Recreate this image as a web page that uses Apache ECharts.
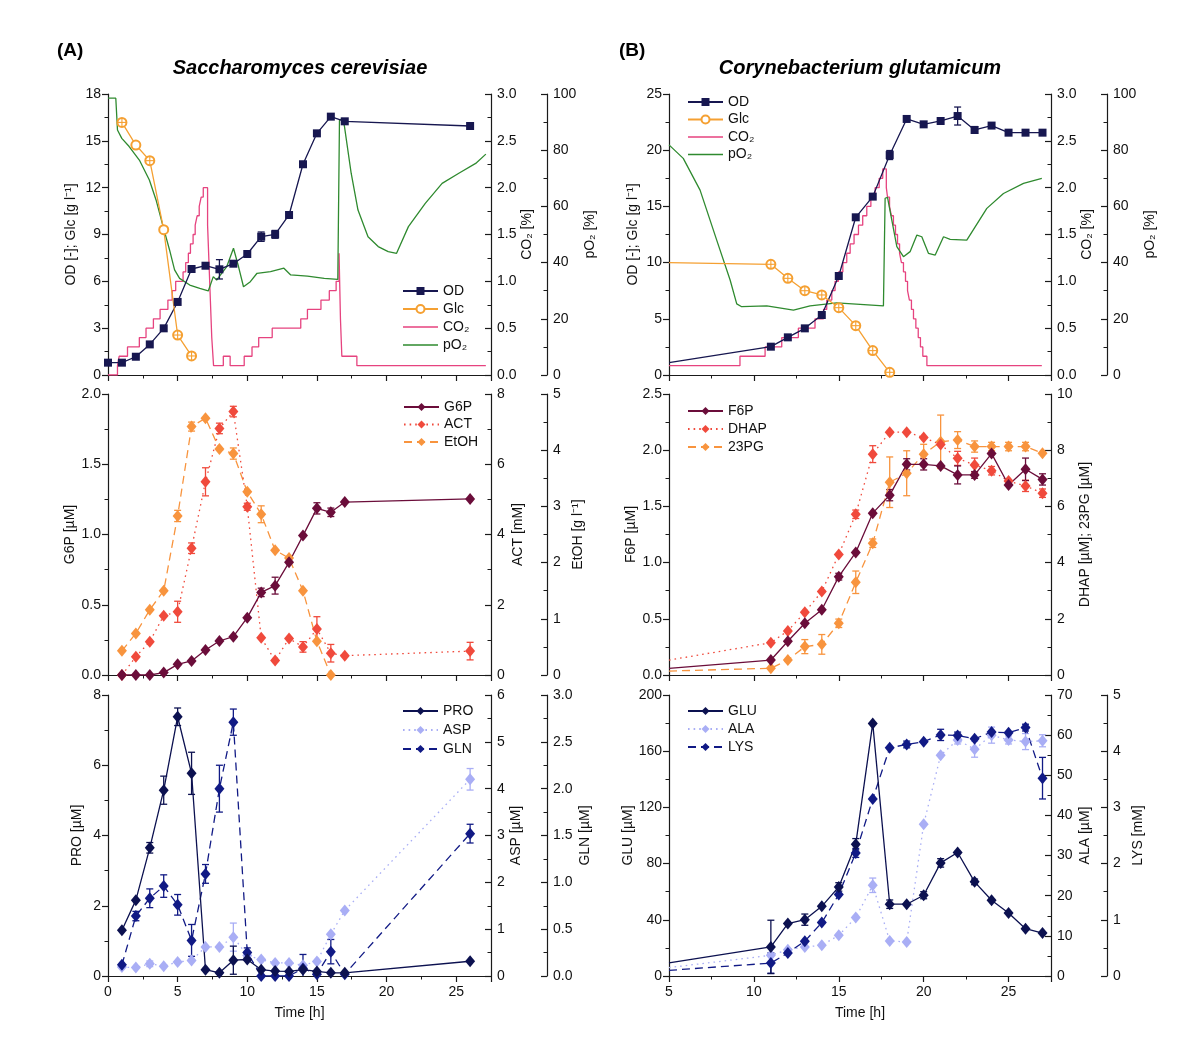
<!DOCTYPE html>
<html><head><meta charset="utf-8">
<script src="https://cdn.jsdelivr.net/npm/echarts/dist/echarts.min.js"></script>
<style>html,body{margin:0;padding:0;background:#fff}#c{width:1200px;height:1054px}</style>
</head><body><div id="c"></div>
<script>
// ---------------- DATA: panel A (Saccharomyces cerevisiae) ----------------
const tOdA = [0,1,2,3,4,5,6,7,8,9,10,11,12,13,14,15,16,17,26];
const odA = [0.79,0.79,1.17,1.96,2.99,4.68,6.79,7.0,6.77,7.13,7.75,8.86,9.01,10.25,13.5,15.48,16.55,16.25,15.95];
const odAErr = [0,0,0,0,0,0,0,0,0.62,0,0,0.3,0.25,0,0,0,0,0,0];
const tGlcA = [1,2,3,4,5,6];
const glcA = [16.18,14.73,13.73,9.31,2.56,1.22];
const glcACross = [1,0,1,0,1,1];
const co2A = [[0,0],[0.68,0.1],[0.8,0.2],[1.4,0.3],[2.25,0.4],[2.73,0.5],[3.26,0.6],[3.74,0.7],[4.3,0.8],[4.61,0.9],[4.86,1.0],[5.39,1.1],[5.58,1.2],[5.77,1.3],[5.92,1.4],[6.11,1.5],[6.26,1.6],[6.4,1.7],[6.55,1.8],[6.69,1.9],[6.84,2.0],[7.15,1.6],[7.25,1.2],[7.35,0.8],[7.45,0.4],[7.58,0.1],[8.28,0.2],[8.77,0.1],[9.78,0.2],[10.34,0.3],[10.82,0.4],[11.79,0.5],[13.84,0.6],[14.32,0.7],[15.29,0.8],[15.89,0.9],[16.38,1.0],[16.59,1.3],[16.69,0.6],[16.79,0.2],[17.87,0.1],[27.13,0.1]];
const po2A = [[0,98.5],[0.56,98.5],[0.68,87.2],[0.99,84.2],[1.52,81.3],[2.25,76.5],[2.97,69.4],[3.45,62.3],[3.96,52.8],[4.42,44.5],[4.78,37.4],[5.14,34.4],[5.87,32.0],[6.59,30.8],[7.2,29.9],[7.56,35.0],[7.8,33.8],[8.16,36.2],[8.53,38.6],[9.01,45.1],[9.37,38.6],[9.73,31.4],[10.22,33.2],[10.7,36.2],[11.67,36.8],[12.63,38.0],[13.12,35.6],[14.32,35.2],[15.53,34.4],[16.5,34.0],[16.62,90.7],[16.86,91.3],[16.98,88.4],[17.46,71.8],[17.95,58.7],[18.67,49.2],[19.4,45.7],[20.12,43.9],[20.72,43.3],[21.57,52.8],[22.78,61.1],[23.99,68.2],[25.19,71.8],[26.4,75.3],[27.13,78.6]];

const tMetA = [1,2,3,4,5,6,7,8,9,10,11,12,13,14,15,16,17,26];
const g6pA = [0,0,0,0.017,0.076,0.10,0.178,0.242,0.273,0.408,0.588,0.636,0.802,0.992,1.186,1.158,1.231,1.253];
const g6pAErr = [0,0,0,0,0,0,0,0,0,0,0.03,0.06,0,0,0.04,0.03,0,0];
const actA = [0,0.52,0.95,1.69,1.80,3.61,5.50,7.02,7.50,4.79,1.06,0.41,1.04,0.80,1.31,0.62,0.55,0.68];
const actAErr = [0,0,0,0,0.3,0.15,0.4,0.15,0.15,0.1,0,0,0,0.15,0.35,0.25,0,0.25];
const tEtohA = [1,2,3,4,5,6,7,8,9,10,11,12,13,14,15,16];
const etohA = [0.43,0.74,1.16,1.50,2.83,4.42,4.57,4.02,3.94,3.26,2.86,2.22,2.08,1.50,0.60,0];
const etohAErr = [0,0,0,0,0.1,0.08,0,0,0.1,0,0.15,0,0,0,0,0];

const proA = [1.30,2.16,3.65,5.29,7.38,5.77,0.18,0.09,0.45,0.47,0.18,0.14,0.13,0.18,0.13,0.09,0.09,0.42];
const proAErr = [0,0,0.15,0.4,0.25,0.6,0,0,0.4,0,0,0,0,0,0,0,0,0];
const aspA = [0.19,0.18,0.26,0.21,0.30,0.33,0.62,0.62,0.83,0.44,0.35,0.28,0.28,0.23,0.31,0.89,1.40,4.20];
const aspAErr = [0,0,0.06,0,0,0,0,0,0.3,0,0,0,0,0,0,0,0,0.23];
const glnA = [0.12,0.64,0.83,0.96,0.76,0.38,1.09,2.0,2.71,0.25,0.0,0,0,0.08,0.02,0.26,0.02,1.52];
const glnAErr = [0,0.05,0.1,0.12,0.11,0.17,0.1,0.25,0.14,0.05,0,0,0,0.15,0,0.13,0,0.1];

// ---------------- DATA: panel B (Corynebacterium glutamicum) ----------------
const tB = [5,11,12,13,14,15,16,17,18,19,20,21,22,23,24,25,26,27];
const odB = [1.10,2.52,3.35,4.15,5.34,8.81,14.03,15.87,19.57,22.78,22.30,22.6,23.04,21.8,22.19,21.56,21.56,21.56];
const odBErr = [0,0,0,0,0,0,0,0,0.4,0,0,0,0.8,0.3,0,0,0,0];
const tGlcB = [5,11,12,13,14,15,16,17,18];
const glcB = [9.99,9.85,8.60,7.50,7.12,5.99,4.39,2.17,0.24];
const glcBCross = [0,1,1,1,1,1,1,1,1];
const co2B = [[5,0.1],[9.18,0.2],[10.66,0.3],[11.64,0.4],[12.62,0.5],[13.6,0.6],[14.1,0.7],[14.29,0.8],[14.59,0.9],[14.78,1.0],[14.98,1.1],[15.24,1.2],[15.47,1.3],[15.67,1.4],[15.9,1.5],[16.16,1.6],[16.41,1.7],[16.65,1.8],[16.89,1.9],[17.14,2.0],[17.38,2.1],[17.59,2.2],[17.8,2.0],[17.87,1.9],[17.99,1.8],[18.1,1.7],[18.22,1.6],[18.34,1.5],[18.46,1.4],[18.58,1.3],[18.69,1.2],[18.81,1.1],[18.93,1.0],[19.05,0.9],[19.16,0.8],[19.28,0.7],[19.4,0.6],[19.54,0.5],[19.68,0.4],[19.81,0.3],[19.95,0.2],[20.19,0.1],[26.96,0.1]];
const po2B = [[5,81.9],[5.84,77.1],[6.83,65.8],[7.81,48.0],[8.6,33.8],[8.99,25.3],[9.28,24.3],[10.76,24.6],[12.33,23.1],[13.31,24.6],[14.88,25.7],[17.63,24.6],[17.73,62.9],[17.87,63.2],[18.42,45.7],[18.81,42.1],[19.2,43.9],[19.6,49.8],[19.89,49.2],[20.28,43.3],[20.68,42.7],[21.17,49.2],[21.56,48.3],[22.54,48.0],[23.72,59.3],[24.7,64.6],[25.88,68.2],[26.96,70.0]];

const f6pB = [0.059,0.133,0.30,0.46,0.58,0.875,1.09,1.44,1.60,1.874,1.874,1.86,1.78,1.78,1.97,1.69,1.83,1.74];
const f6pBErr = [0,0,0,0,0,0.03,0,0,0.05,0.05,0.05,0,0.08,0.03,0,0,0.1,0.05];
const dhapB = [0.53,1.15,1.57,2.23,2.97,4.29,5.72,7.86,8.64,8.64,8.45,8.2,7.71,7.47,7.27,6.9,6.73,6.47];
const dhapBErr = [0,0,0,0,0,0,0.15,0.3,0,0,0,0,0.25,0.25,0.15,0,0.2,0.15];
const pg23B = [0.14,0.24,0.53,1.01,1.09,1.84,3.30,4.69,6.86,7.18,7.86,8.30,8.36,8.13,8.13,8.13,8.13,7.89];
const pg23BErr = [0,0,0,0.25,0.35,0.15,0.4,0.15,0.9,0.8,0.35,0.95,0.3,0.2,0.15,0.15,0.15,0];

const gluB = [9.3,20.7,37.3,40.1,49.6,63.4,93.8,179.8,51.1,51.1,57.5,80.5,87.9,67,53.9,44.9,33.7,30.6];
const gluBErr = [0,19,0,4,0,3,4,0,3,0,2.5,3,0,2,0,0,0,0];
const alaB = [2.1,5.15,6.57,7.23,7.65,10.14,14.55,22.6,8.73,8.48,37.8,55.0,58.8,56.5,60.0,58.8,58.4,58.6];
const alaBErr = [0,0,0,0,0,0,0,1.8,0,0,0,0,1,2,2,1,2,1.5];
const lysB = [0.10,0.23,0.41,0.62,0.95,1.45,2.19,3.15,4.06,4.12,4.17,4.29,4.28,4.22,4.34,4.33,4.42,3.52];
const lysBErr = [0,0.18,0,0,0,0,0.08,0,0,0.06,0,0.1,0.06,0,0,0,0.06,0.37];

// ---------------- STYLE ----------------
const FONT = "'Liberation Sans', Arial, Helvetica, sans-serif";
const AX = '#1a1a1a';
const C = {
  od:'#171750', glc:'#f5a032', co2:'#e6437f', po2:'#2f8a2f',
  g6p:'#6b0d3a', act:'#f04a3c', etoh:'#f8943e',
  pro:'#0c1150', gln:'#111a85', asp:'#a9aef5'
};
const DOT = [1.6, 4];
const DASH = [8, 5];
const LINE_ICON = 'path://M0,0L0.01,0L0.01,0.01L0,0.01Z M0,4.2L35,4.2L35,5.8L0,5.8Z M34.99,9.99L35,9.99L35,10L34.99,10Z';

const grids = [], xAxes = [], yAxes = [], series = [], legends = [];

function addGrid(left, top, width, height){ grids.push({left, top, width, height}); return grids.length-1; }
function addX(g, min, showLabel){
  xAxes.push({type:'value', gridIndex:g, min:min, max:27.5, interval:5, position:'bottom',
    name: showLabel ? 'Time [h]' : '', nameLocation:'middle', nameGap:30,
    nameTextStyle:{fontFamily:FONT, fontSize:14, color:'#111'},
    axisLine:{show:true, onZero:false, lineStyle:{color:AX, width:1.2}},
    axisTick:{show:true, inside:false, length:6, lineStyle:{color:AX, width:1.2}},
    minorTick:{show:true, splitNumber:2, length:3.5, lineStyle:{color:AX, width:1}},
    axisLabel:{show:showLabel, showMaxLabel:false, margin:9, fontFamily:FONT, fontSize:14, color:'#111'},
    splitLine:{show:false}, minorSplitLine:{show:false}});
  return xAxes.length-1;
}
function addY(o){
  const right = o.pos === 'right';
  yAxes.push({type:'value', gridIndex:o.g, position:o.pos, offset:o.off||0, min:o.min, max:o.max, interval:o.iv,
    name:o.name, nameLocation:'middle', nameRotate:90, nameGap:o.gap,
    nameTextStyle:{fontFamily:FONT, fontSize:14, color:'#111'},
    axisLine:{show:true, onZero:false, lineStyle:{color:AX, width:1.2}},
    axisTick:{show:true, inside:right, length:6, lineStyle:{color:AX, width:1.2}},
    minorTick:{show:true, splitNumber:2, length:3.5, lineStyle:{color:AX, width:1}},
    axisLabel:{show:true, margin: right ? 6 : 7, fontFamily:FONT, fontSize:14, color:'#111',
      formatter: o.dec ? (v => v.toFixed(o.dec)) : (v => String(v))},
    splitLine:{show:false}, minorSplitLine:{show:false}});
  return yAxes.length-1;
}
function pts(ts, vs, hideFirst){
  return ts.map((t,i) => (hideFirst && i===0) ? {value:[t, vs[i]], symbol:'none'} : [t, vs[i]]);
}
function lineS(name, data, xi, yi, color, o){
  o = o || {};
  series.push({type:'line', name, data, xAxisIndex:xi, yAxisIndex:yi,
    symbol:o.symbol || 'none', symbolSize:o.size || 8, showSymbol: !!o.symbol,
    step:o.step || false, clip:true,
    lineStyle:{color, width:o.width || 1.3, type:o.type || 'solid'},
    itemStyle:{color, borderWidth: o.bw || 0, borderColor:color},
    emphasis:{disabled:true}, z:o.z || 3});
}
function errS(ts, vs, es, xi, yi, color){
  const data = [];
  ts.forEach((t,i) => { if (es[i] > 0) data.push([t, vs[i]-es[i], vs[i]+es[i]]); });
  series.push({type:'custom', name:'err', xAxisIndex:xi, yAxisIndex:yi, data, z:3, clip:true,
    encode:{x:0, y:[1,2]},
    renderItem:(p, api) => {
      const a = api.coord([api.value(0), api.value(1)]);
      const b = api.coord([api.value(0), api.value(2)]);
      const w = 3.5, st = {stroke:color, lineWidth:1.3};
      return {type:'group', children:[
        {type:'line', shape:{x1:a[0], y1:a[1], x2:b[0], y2:b[1]}, style:st},
        {type:'line', shape:{x1:a[0]-w, y1:a[1], x2:a[0]+w, y2:a[1]}, style:st},
        {type:'line', shape:{x1:b[0]-w, y1:b[1], x2:b[0]+w, y2:b[1]}, style:st}
      ]};
    }});
}
function crossS(ts, vs, flags, xi, yi, color){
  const data = [];
  ts.forEach((t,i) => { if (flags[i]) data.push([t, vs[i]]); });
  series.push({type:'custom', name:'cross', xAxisIndex:xi, yAxisIndex:yi, data, z:4,
    encode:{x:0, y:1},
    renderItem:(p, api) => {
      const c = api.coord([api.value(0), api.value(1)]);
      const r = 4.5, st = {stroke:color, lineWidth:1.1};
      return {type:'group', children:[
        {type:'line', shape:{x1:c[0]-r, y1:c[1], x2:c[0]+r, y2:c[1]}, style:st},
        {type:'line', shape:{x1:c[0], y1:c[1]-r, x2:c[0], y2:c[1]+r}, style:st}
      ]};
    }});
}
function addLegend(names, left, top, gap){
  const data = names.map(n => (n === 'CO\u2082' || n === 'pO\u2082') ? {name:n, icon:LINE_ICON} : n);
  legends.push({data, left, top, orient:'vertical', itemWidth:35, itemHeight:10, itemGap:gap,
    selectedMode:false, padding:0, textStyle:{fontFamily:FONT, fontSize:14, color:'#111'}});
}

const DIA = [10, 12];

const AL = 108, AW = 383, BL = 669, BW = 382;
const R1 = 94, R2 = 394, R3 = 695, RH = 281;

// ======== Panel A ========
// A top
let g = addGrid(AL, R1, AW, RH); let x = addX(g, 0, false);
let yL = addY({g, pos:'left', min:0, max:18, iv:3, name:'OD [-]; Glc [g l\u207B\u00B9]', gap:30});
let yR1 = addY({g, pos:'right', min:0, max:3, iv:0.5, dec:1, name:'CO\u2082 [%]', gap:25});
let yR2 = addY({g, pos:'right', off:56, min:0, max:100, iv:20, name:'pO\u2082 [%]', gap:36});
lineS('CO\u2082', co2A, x, yR1, C.co2, {step:'end', z:2});
lineS('pO\u2082', po2A, x, yR2, C.po2, {z:2});
lineS('OD', pts(tOdA, odA), x, yL, C.od, {symbol:'rect', size:8});
errS(tOdA, odA, odAErr, x, yL, C.od);
lineS('Glc', pts(tGlcA, glcA), x, yL, C.glc, {symbol:'emptyCircle', size:9, bw:1.1});
crossS(tGlcA, glcA, glcACross, x, yL, C.glc);
addLegend(['OD','Glc','CO\u2082','pO\u2082'], 402, 284, 4);

// A middle
g = addGrid(AL, R2, AW, RH); x = addX(g, 0, false);
yL = addY({g, pos:'left', min:0, max:2, iv:0.5, dec:1, name:'G6P [\u00B5M]', gap:30});
yR1 = addY({g, pos:'right', min:0, max:8, iv:2, name:'ACT [mM]', gap:20});
yR2 = addY({g, pos:'right', off:56, min:0, max:5, iv:1, name:'EtOH [g l\u207B\u00B9]', gap:24});
lineS('EtOH', pts(tEtohA, etohA), x, yR2, C.etoh, {symbol:'diamond', size:DIA, type:DASH});
errS(tEtohA, etohA, etohAErr, x, yR2, C.etoh);
lineS('ACT', pts(tMetA, actA), x, yR1, C.act, {symbol:'diamond', size:DIA, type:DOT});
errS(tMetA, actA, actAErr, x, yR1, C.act);
lineS('G6P', pts(tMetA, g6pA), x, yL, C.g6p, {symbol:'diamond', size:DIA});
errS(tMetA, g6pA, g6pAErr, x, yL, C.g6p);
addLegend(['G6P','ACT','EtOH'], 403, 400, 3.5);

// A bottom
g = addGrid(AL, R3, AW, RH); x = addX(g, 0, true);
yL = addY({g, pos:'left', min:0, max:8, iv:2, name:'PRO [\u00B5M]', gap:24});
yR1 = addY({g, pos:'right', min:0, max:6, iv:1, name:'ASP [\u00B5M]', gap:17});
yR2 = addY({g, pos:'right', off:56, min:0, max:3, iv:0.5, dec:1, name:'GLN [\u00B5M]', gap:31});
lineS('ASP', pts(tMetA, aspA), x, yR1, C.asp, {symbol:'diamond', size:DIA, type:DOT});
errS(tMetA, aspA, aspAErr, x, yR1, C.asp);
lineS('GLN', pts(tMetA, glnA), x, yR2, C.gln, {symbol:'diamond', size:DIA, type:DASH});
errS(tMetA, glnA, glnAErr, x, yR2, C.gln);
lineS('PRO', pts(tMetA, proA), x, yL, C.pro, {symbol:'diamond', size:DIA});
errS(tMetA, proA, proAErr, x, yL, C.pro);
addLegend(['PRO','ASP','GLN'], 402, 704, 5);

// ======== Panel B ========
// B top
g = addGrid(BL, R1, BW, RH); x = addX(g, 5, false);
yL = addY({g, pos:'left', min:0, max:25, iv:5, name:'OD [-]; Glc [g l\u207B\u00B9]', gap:29});
yR1 = addY({g, pos:'right', min:0, max:3, iv:0.5, dec:1, name:'CO\u2082 [%]', gap:25});
yR2 = addY({g, pos:'right', off:56, min:0, max:100, iv:20, name:'pO\u2082 [%]', gap:36});
lineS('CO\u2082', co2B, x, yR1, C.co2, {step:'end', z:2});
lineS('pO\u2082', po2B, x, yR2, C.po2, {z:2});
lineS('OD', pts(tB, odB, true), x, yL, C.od, {symbol:'rect', size:8});
errS(tB, odB, odBErr, x, yL, C.od);
lineS('Glc', pts(tGlcB, glcB, true), x, yL, C.glc, {symbol:'emptyCircle', size:9, bw:1.1});
crossS(tGlcB, glcB, glcBCross, x, yL, C.glc);
addLegend(['OD','Glc','CO\u2082','pO\u2082'], 687, 95, 3.5);

// B middle
g = addGrid(BL, R2, BW, RH); x = addX(g, 5, false);
yL = addY({g, pos:'left', min:0, max:2.5, iv:0.5, dec:1, name:'F6P [\u00B5M]', gap:27});
yR1 = addY({g, pos:'right', min:0, max:10, iv:2, name:'DHAP [\u00B5M]; 23PG [\u00B5M]', gap:27});
lineS('23PG', pts(tB, pg23B, true), x, yR1, C.etoh, {symbol:'diamond', size:DIA, type:DASH});
errS(tB, pg23B, pg23BErr, x, yR1, C.etoh);
lineS('DHAP', pts(tB, dhapB, true), x, yR1, C.act, {symbol:'diamond', size:DIA, type:DOT});
errS(tB, dhapB, dhapBErr, x, yR1, C.act);
lineS('F6P', pts(tB, f6pB, true), x, yL, C.g6p, {symbol:'diamond', size:DIA});
errS(tB, f6pB, f6pBErr, x, yL, C.g6p);
addLegend(['F6P','DHAP','23PG'], 687, 404, 4);

// B bottom
g = addGrid(BL, R3, BW, RH); x = addX(g, 5, true);
yL = addY({g, pos:'left', min:0, max:200, iv:40, name:'GLU [\u00B5M]', gap:29});
yR1 = addY({g, pos:'right', min:0, max:70, iv:10, name:'ALA [\u00B5M]', gap:27});
yR2 = addY({g, pos:'right', off:56, min:0, max:5, iv:1, name:'LYS [mM]', gap:24});
lineS('ALA', pts(tB, alaB, true), x, yR1, C.asp, {symbol:'diamond', size:DIA, type:DOT});
errS(tB, alaB, alaBErr, x, yR1, C.asp);
lineS('LYS', pts(tB, lysB, true), x, yR2, C.gln, {symbol:'diamond', size:DIA, type:DASH});
errS(tB, lysB, lysBErr, x, yR2, C.gln);
lineS('GLU', pts(tB, gluB, true), x, yL, C.pro, {symbol:'diamond', size:DIA});
errS(tB, gluB, gluBErr, x, yL, C.pro);
addLegend(['GLU','ALA','LYS'], 687, 704, 4);

const chart = echarts.init(document.getElementById('c'), null, {renderer:'canvas'});
chart.setOption({
  animation:false, backgroundColor:'#fff',
  grid:grids, xAxis:xAxes, yAxis:yAxes, series, legend:legends,
  graphic:[
    {type:'text', x:57, y:51, style:{text:'(A)', font:"bold 19px 'Liberation Sans', Arial", fill:'#000', verticalAlign:'middle'}},
    {type:'text', x:300, y:68, style:{text:'Saccharomyces cerevisiae', font:"italic bold 20px 'Liberation Sans', Arial", fill:'#000', align:'center', verticalAlign:'middle'}},
    {type:'text', x:619, y:51, style:{text:'(B)', font:"bold 19px 'Liberation Sans', Arial", fill:'#000', verticalAlign:'middle'}},
    {type:'text', x:860, y:68, style:{text:'Corynebacterium glutamicum', font:"italic bold 20px 'Liberation Sans', Arial", fill:'#000', align:'center', verticalAlign:'middle'}}
  ]
});
</script></body></html>
